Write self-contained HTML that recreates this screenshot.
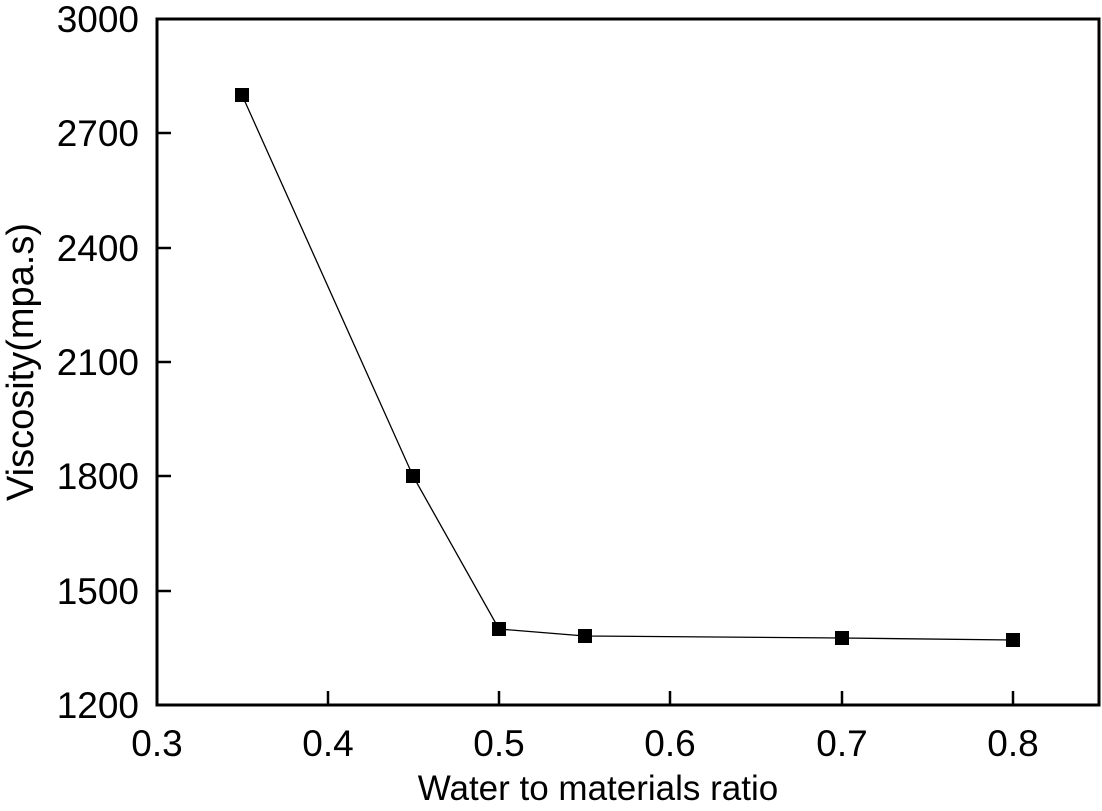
<!DOCTYPE html>
<html><head><style>body{margin:0;background:#fff}</style></head><body>
<svg width="1102" height="806" xmlns="http://www.w3.org/2000/svg" font-family="Liberation Sans, sans-serif">
<rect x="157" y="19" width="942" height="686" fill="none" stroke="#000" stroke-width="3"/>
<g stroke="#000" stroke-width="2.5">
<line x1="328" y1="705" x2="328" y2="691"/><line x1="499" y1="705" x2="499" y2="691"/><line x1="670" y1="705" x2="670" y2="691"/><line x1="842" y1="705" x2="842" y2="691"/><line x1="1013" y1="705" x2="1013" y2="691"/>
<line x1="157" y1="133" x2="171" y2="133"/><line x1="157" y1="248" x2="171" y2="248"/><line x1="157" y1="362" x2="171" y2="362"/><line x1="157" y1="476" x2="171" y2="476"/><line x1="157" y1="591" x2="171" y2="591"/>
</g>
<g font-size="37" text-anchor="middle">
<text x="157" y="756">0.3</text><text x="328" y="756">0.4</text><text x="499" y="756">0.5</text><text x="670" y="756">0.6</text><text x="842" y="756">0.7</text><text x="1013" y="756">0.8</text>
</g>
<g font-size="37" text-anchor="end">
<text x="139" y="32">3000</text><text x="139" y="146">2700</text><text x="139" y="261">2400</text><text x="139" y="375">2100</text><text x="139" y="489">1800</text><text x="139" y="604">1500</text><text x="139" y="718">1200</text>
</g>
<text x="598" y="800" font-size="35" text-anchor="middle">Water to materials ratio</text>
<text transform="translate(33,362) rotate(-90)" font-size="38" text-anchor="middle">Viscosity(mpa.s)</text>
<polyline fill="none" stroke="#000" stroke-width="1.3" points="242,95 413,476 499,629 585,636 842,638 1013,640"/>
<g fill="#000">
<rect x="235" y="88" width="14" height="14"/><rect x="406" y="469" width="14" height="14"/><rect x="492" y="622" width="14" height="14"/><rect x="578" y="629" width="14" height="14"/><rect x="835" y="631" width="14" height="14"/><rect x="1006" y="633" width="14" height="14"/>
</g>
</svg>
</body></html>
